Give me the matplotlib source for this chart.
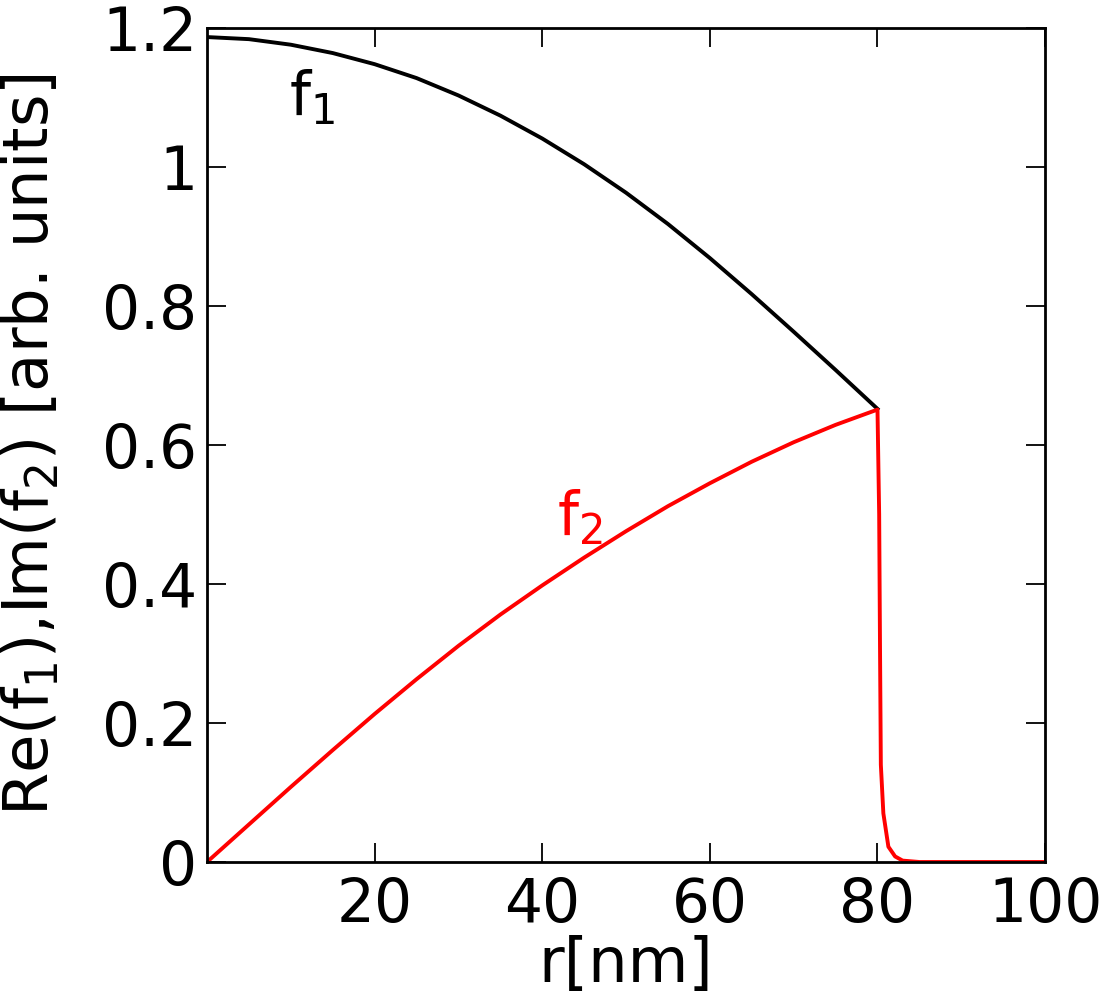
import matplotlib
matplotlib.use("Agg")
import matplotlib.pyplot as plt

# values
r_f1 = [0, 5, 10, 15, 20, 25, 30, 35, 40, 45, 50, 55, 60, 65, 70, 75, 80]
re_f1 = [1.187, 1.184, 1.176, 1.164, 1.148, 1.128, 1.103, 1.074, 1.041,
         1.004, 0.963, 0.918, 0.869, 0.817, 0.763, 0.708, 0.652]

r_f2 = [0, 5, 10, 15, 20, 25, 30, 35, 40, 45, 50, 55, 60, 65, 70, 75, 80,
        80.2, 80.3, 80.4, 80.7, 81.3, 82.1, 83.0, 85, 100]
im_f2 = [0, 0.054, 0.108, 0.161, 0.213, 0.263, 0.311, 0.356, 0.398, 0.438,
         0.476, 0.512, 0.545, 0.576, 0.604, 0.629, 0.651,
         0.50, 0.31, 0.14, 0.07, 0.022, 0.008, 0.002, 0.0, 0.0]

xticks = [20, 40, 60, 80, 100]
yticks = [0, 0.2, 0.4, 0.6, 0.8, 1.0, 1.2]
ytick_labels = ["0", "0.2", "0.4", "0.6", "0.8", "1", "1.2"]

fs = 43
fig = plt.figure(figsize=(11.13, 9.94), dpi=100)
ax = fig.add_axes([0.186, 0.1328, 0.753, 0.839])

ax.plot(r_f1, re_f1, color="black", lw=2.8)
ax.plot(r_f2, im_f2, color="red", lw=2.8)

ax.text(9.8, 1.075, "f$_1$", fontsize=fs, color="black")
ax.text(41.8, 0.47, "f$_2$", fontsize=fs, color="red")

ax.set_xlim(0, 100)
ax.set_ylim(0, 1.2)
ax.set_xticks(xticks)
ax.set_yticks(yticks)
ax.set_yticklabels(ytick_labels)
ax.tick_params(direction="in", length=14, width=1.3, labelsize=fs,
               top=True, right=True)
ax.tick_params(axis="y", pad=7)
ax.tick_params(axis="x", pad=10)
for s in ax.spines.values():
    s.set_linewidth(2)

ax.set_xlabel("r[nm]", fontsize=45, labelpad=0)
ax.set_ylabel("Re(f$_1$),Im(f$_2$) [arb. units]", fontsize=45, labelpad=29)

fig.savefig("out.png", dpi=100)
